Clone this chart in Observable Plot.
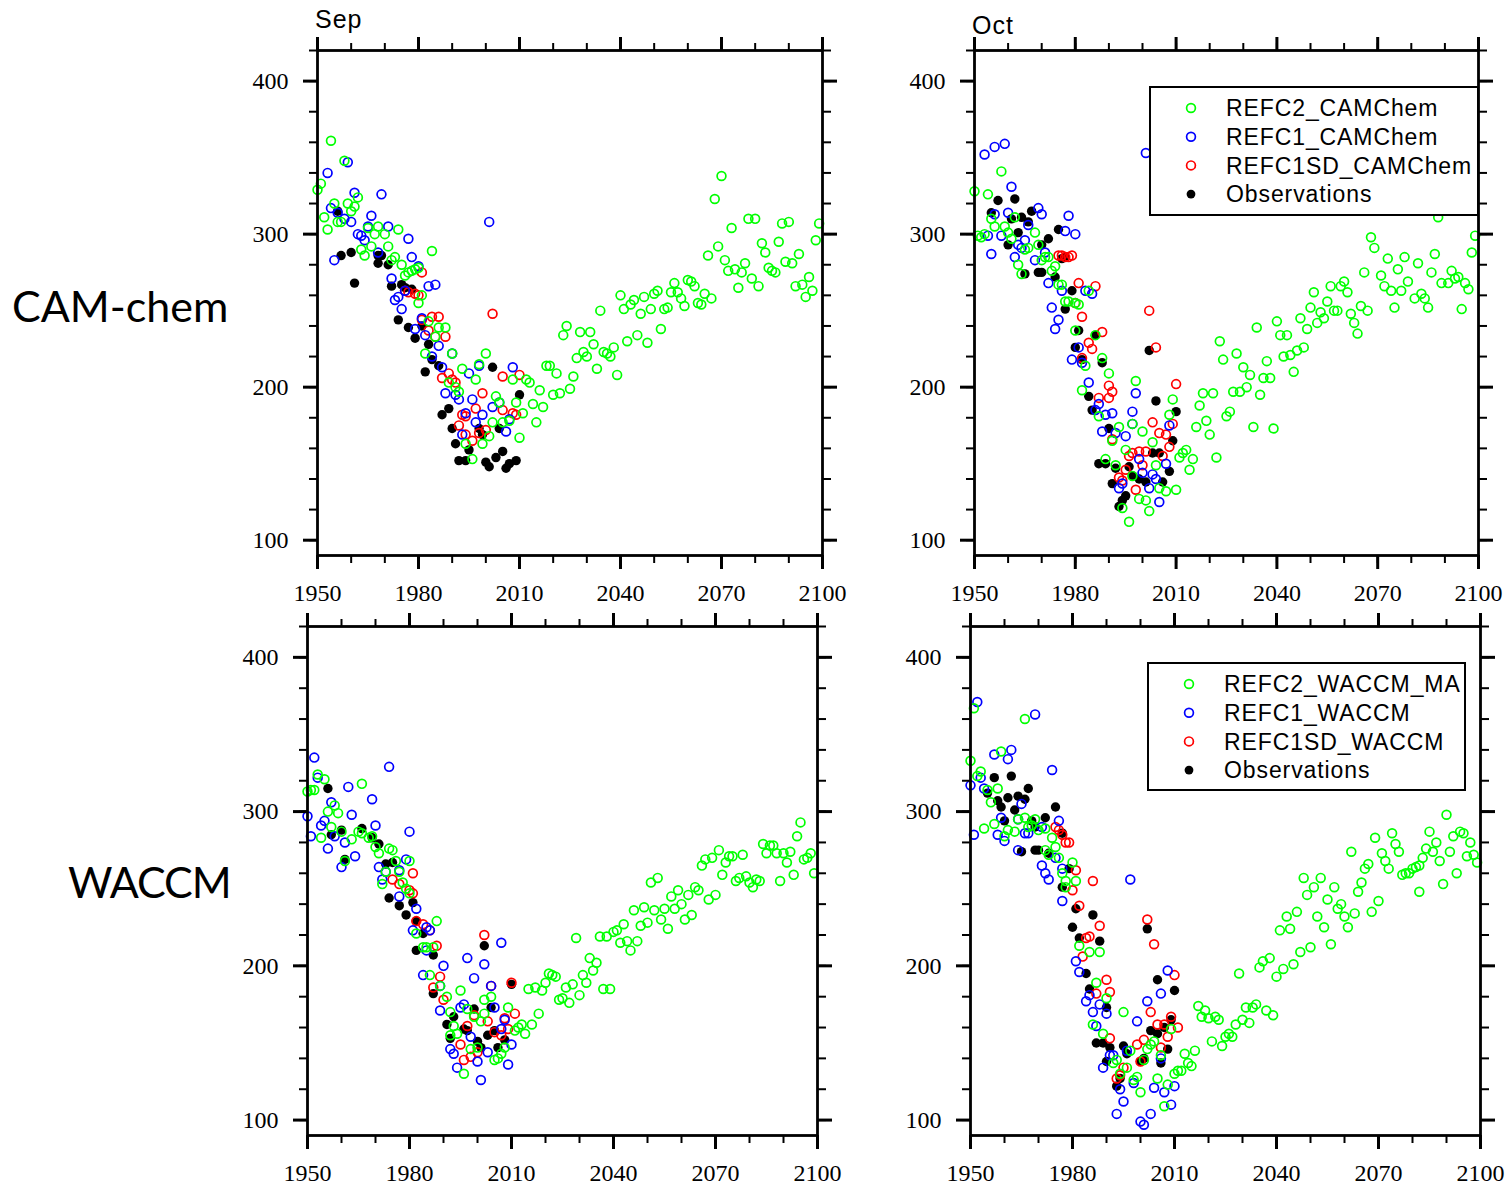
<!DOCTYPE html>
<html><head><meta charset="utf-8">
<script src="https://cdn.jsdelivr.net/npm/d3@7"></script>
<script src="https://cdn.jsdelivr.net/npm/@observablehq/plot@0.6"></script>
<style>
body{margin:0;background:#fff;}
#root{position:relative;width:1509px;height:1188px;overflow:hidden;background:#fff;}
#root > svg, #root > div{position:absolute;}
svg.panel text{font-family:"Liberation Serif","Times New Roman",serif !important;}
</style></head><body><div id="root"></div>
<script>
// ---------------- data: [year, ozone value] ----------------
const xMajorTicks = [1950, 1980, 2010, 2040, 2070, 2100];
const yMajorTicks = [100, 200, 300, 400];
const legendCam = ["REFC2_CAMChem", "REFC1_CAMChem", "REFC1SD_CAMChem", "Observations"];
const legendWac = ["REFC2_WACCM_MA", "REFC1_WACCM", "REFC1SD_WACCM", "Observations"];

// CAM-chem, September
const camSepC2 = [[1950,329],[1951,333],[1952,311],[1953,303],[1954,361],[1955,320],[1956,308],[1957,308],[1958,348],[1959,320],[1960,315],[1961,318],[1962,324],[1963,290],[1964,286],[1965,304],[1966,292],[1967,300],[1968,305],[1970,300],[1971,292],[1972,283],[1973,285],[1974,303],[1975,280],[1976,273],[1977,275],[1978,276],[1979,277],[1980,278],[1980,255],[1981,260],[1982,222],[1983,243],[1984,289],[1985,233],[1986,239],[1988,239],[1989,203],[1990,222],[1991,200],[1992,197],[1993,212],[1994,163],[1996,153],[1997,205],[1998,215],[1999,163],[2000,222],[2001,168],[2002,177],[2003,194],[2004,190],[2005,177],[2007,178],[2008,205],[2009,190],[2010,167],[2011,183],[2012,205],[2013,203],[2014,189],[2015,177],[2016,198],[2017,187],[2018,214],[2019,214],[2020,195],[2021,209],[2022,196],[2023,234],[2024,240],[2025,199],[2026,207],[2027,219],[2028,236],[2029,223],[2030,220],[2031,236],[2032,228],[2033,212],[2034,250],[2035,223],[2036,222],[2037,220],[2038,226],[2039,208],[2040,260],[2041,251],[2042,230],[2043,254],[2044,257],[2045,234],[2046,248],[2047,259],[2048,229],[2049,251],[2050,261],[2051,263],[2052,238],[2053,251],[2054,252],[2055,262],[2056,268],[2057,262],[2058,258],[2059,253],[2060,270],[2061,269],[2062,266],[2063,255],[2064,254],[2065,261],[2066,286],[2067,258],[2068,323],[2069,292],[2070,338],[2071,283],[2072,276],[2073,304],[2074,277],[2075,265],[2076,275],[2077,281],[2078,310],[2079,271],[2080,310],[2081,266],[2082,294],[2083,288],[2084,278],[2085,276],[2086,275],[2087,295],[2088,307],[2089,282],[2090,308],[2091,281],[2092,266],[2093,287],[2094,267],[2095,259],[2096,272],[2097,263],[2098,296],[2099,307]];
const camSepC1 = [[1953,340],[1954,317],[1955,283],[1956,314],[1958,310],[1959,347],[1960,308],[1961,327],[1962,300],[1963,299],[1964,296],[1965,305],[1966,312],[1968,288],[1969,326],[1971,305],[1972,271],[1973,257],[1974,259],[1975,251],[1976,263],[1977,297],[1978,285],[1979,238],[1980,279],[1981,245],[1982,234],[1983,266],[1984,220],[1985,267],[1986,227],[1987,213],[1988,196],[1990,222],[1991,195],[1992,192],[1993,169],[1994,183],[1995,209],[1996,192],[1997,177],[1998,214],[1999,182],[2001,308],[2002,187],[2004,190],[2006,171],[2007,179],[2008,213]];
const camSepSD = [[1976,263],[1977,262],[1979,261],[1980,260],[1981,275],[1981,244],[1983,237],[1984,246],[1985,233],[1986,246],[1987,206],[1988,233],[1989,209],[1990,205],[1991,203],[1992,175],[1993,182],[1994,181],[1994,169],[1996,165],[1997,186],[1998,170],[1999,196],[2000,172],[2002,248],[2005,207],[2005,185],[2008,183],[2009,182],[2010,208]];
const camSepObs = [[1956,315],[1957,286],[1960,288],[1961,268],[1968,286],[1969,286],[1968,281],[1971,280],[1972,266],[1975,267],[1976,265],[1978,264],[1974,244],[1977,239],[1979,232],[1981,240],[1983,228],[1982,210],[1984,218],[1986,214],[1987,182],[1989,186],[1990,173],[1991,163],[1992,152],[1994,152],[1995,159],[1998,173],[1999,169],[2000,151],[2001,148],[2002,213],[2003,154],[2004,173],[2005,158],[2006,147],[2007,150],[2009,152],[2010,195]];

// CAM-chem, October
const camOctC2 = [[1950,328],[1951,299],[1952,298],[1953,300],[1954,326],[1955,310],[1956,305],[1958,341],[1959,305],[1960,301],[1961,297],[1962,311],[1963,280],[1964,274],[1965,290],[1966,291],[1968,301],[1969,293],[1970,283],[1971,285],[1972,285],[1973,276],[1974,279],[1975,267],[1976,267],[1977,256],[1978,256],[1980,255],[1980,237],[1981,254],[1982,198],[1983,214],[1984,263],[1986,234],[1987,181],[1988,219],[1989,153],[1990,209],[1991,165],[1992,149],[1993,174],[1994,121],[1995,159],[1996,112],[1997,176],[1997,142],[1998,204],[1999,127],[2000,171],[2001,126],[2002,119],[2003,164],[2004,149],[2005,134],[2007,132],[2008,182],[2009,192],[2010,133],[2011,154],[2012,157],[2013,159],[2014,146],[2015,153],[2016,174],[2017,188],[2018,196],[2019,178],[2020,169],[2021,196],[2022,154],[2023,230],[2024,218],[2025,181],[2026,184],[2027,197],[2028,222],[2029,197],[2030,213],[2031,200],[2032,208],[2033,174],[2034,239],[2035,195],[2036,206],[2037,217],[2038,206],[2039,173],[2040,243],[2041,234],[2042,220],[2043,234],[2044,221],[2045,210],[2046,224],[2047,245],[2048,226],[2049,238],[2050,252],[2051,262],[2052,242],[2053,249],[2054,245],[2055,256],[2056,266],[2057,250],[2058,250],[2059,266],[2060,269],[2061,262],[2062,248],[2063,242],[2064,235],[2065,253],[2066,275],[2067,250],[2068,298],[2069,291],[2070,317],[2071,273],[2072,266],[2073,284],[2074,263],[2075,252],[2076,277],[2077,263],[2078,285],[2079,269],[2080,317],[2081,258],[2082,281],[2083,261],[2084,258],[2085,252],[2086,275],[2087,287],[2088,311],[2089,268],[2090,321],[2091,268],[2092,276],[2093,271],[2094,272],[2095,251],[2096,268],[2097,264],[2098,288],[2099,299]];
const camOctC1 = [[1953,352],[1954,299],[1955,287],[1956,357],[1956,313],[1958,299],[1959,359],[1960,314],[1961,331],[1962,285],[1963,293],[1964,291],[1965,296],[1966,306],[1968,283],[1969,317],[1970,313],[1971,288],[1972,268],[1973,252],[1974,238],[1975,244],[1976,263],[1977,302],[1978,312],[1979,218],[1980,300],[1981,226],[1982,216],[1983,263],[1984,203],[1985,261],[1986,185],[1987,189],[1988,171],[1989,182],[1991,183],[1992,170],[1993,134],[1994,137],[1995,168],[1997,184],[1997,176],[1998,196],[1999,153],[2000,144],[2001,353],[2002,134],[2003,143],[2004,140],[2005,125],[2007,150],[2008,175]];
const camOctSD = [[1975,286],[1976,286],[1977,285],[1978,285],[1979,286],[1980,255],[1981,268],[1982,246],[1982,219],[1984,229],[1985,225],[1986,266],[1987,193],[1988,236],[1990,201],[1990,193],[1991,197],[1991,166],[1993,141],[1994,139],[1995,146],[1996,155],[1997,157],[1998,133],[1999,158],[2000,149],[2001,158],[2002,250],[2003,177],[2004,226],[2005,170],[2006,155],[2007,169],[2008,161],[2009,176],[2010,202]];
const camOctObs = [[1955,314],[1957,322],[1960,293],[1961,310],[1962,323],[1963,301],[1964,311],[1965,274],[1966,308],[1967,315],[1969,275],[1970,275],[1970,293],[1972,297],[1974,272],[1975,303],[1976,284],[1977,285],[1977,251],[1979,263],[1980,226],[1981,237],[1982,218],[1984,194],[1985,185],[1986,234],[1987,150],[1988,216],[1989,150],[1990,173],[1991,137],[1992,147],[1993,122],[1994,126],[1995,129],[1996,148],[1997,142],[1999,140],[2001,138],[2002,224],[2003,157],[2004,191],[2005,157],[2006,138],[2008,145],[2009,165],[2010,184]];

// WACCM, September
const wacSepC2 = [[1950,313],[1951,314],[1952,314],[1953,324],[1954,283],[1955,321],[1956,300],[1957,290],[1958,304],[1959,299],[1960,287],[1961,268],[1963,282],[1965,287],[1966,318],[1966,286],[1968,283],[1969,284],[1970,277],[1971,273],[1972,253],[1973,261],[1974,276],[1975,275],[1976,268],[1977,261],[1978,254],[1979,250],[1980,268],[1980,247],[1982,221],[1984,212],[1985,212],[1986,194],[1987,212],[1988,229],[1989,187],[1991,180],[1992,170],[1992,155],[1993,161],[1994,156],[1995,184],[1996,130],[1997,172],[1998,146],[1999,167],[2000,147],[2001,164],[2002,178],[2002,169],[2004,180],[2005,139],[2006,140],[2007,143],[2008,147],[2009,173],[2011,158],[2012,160],[2013,162],[2014,156],[2015,185],[2016,162],[2017,186],[2018,169],[2019,184],[2020,189],[2021,195],[2022,194],[2023,193],[2024,178],[2025,179],[2026,186],[2027,176],[2028,188],[2029,218],[2030,181],[2031,194],[2032,189],[2033,205],[2034,197],[2035,202],[2036,219],[2037,185],[2038,219],[2039,185],[2040,222],[2041,223],[2042,215],[2043,227],[2044,216],[2045,210],[2046,236],[2047,216],[2048,226],[2049,238],[2050,228],[2051,254],[2052,236],[2053,257],[2054,230],[2055,237],[2056,224],[2057,245],[2058,237],[2059,249],[2060,240],[2061,230],[2062,246],[2063,233],[2064,251],[2065,249],[2066,265],[2067,269],[2068,243],[2069,270],[2070,246],[2071,275],[2072,259],[2073,267],[2074,271],[2075,271],[2076,255],[2077,257],[2078,272],[2079,258],[2080,254],[2081,251],[2082,256],[2083,255],[2084,279],[2085,273],[2086,278],[2087,278],[2088,273],[2089,255],[2090,273],[2091,267],[2092,274],[2093,259],[2094,284],[2095,293],[2096,269],[2097,270],[2098,273],[2099,260]];
const wacSepC1 = [[1950,297],[1951,284],[1952,335],[1953,322],[1954,291],[1955,294],[1956,276],[1957,306],[1958,284],[1960,264],[1961,280],[1962,316],[1963,298],[1964,271],[1969,308],[1970,291],[1971,264],[1972,256],[1973,261],[1974,329],[1977,262],[1977,245],[1979,269],[1980,287],[1981,223],[1982,237],[1984,194],[1985,225],[1985,210],[1986,223],[1989,187],[1989,171],[1990,200],[1992,146],[1993,143],[1994,134],[1995,173],[1996,175],[1997,205],[1998,154],[1999,192],[2000,138],[2001,126],[2002,201],[2003,144],[2004,187],[2005,173],[2007,215],[2007,159],[2008,165],[2009,136],[2010,149]];
const wacSepSD = [[1975,256],[1977,253],[1980,249],[1981,260],[1981,247],[1982,229],[1984,227],[1986,223],[1987,186],[1988,213],[1989,193],[1990,178],[1995,149],[1996,139],[1997,161],[1998,141],[1999,168],[2000,144],[2002,220],[2003,164],[2004,187],[2005,157],[2007,155],[2008,166],[2009,159],[2010,189],[2011,169]];
const wacSepObs = [[1956,315],[1957,285],[1960,288],[1961,269],[1966,289],[1969,283],[1971,279],[1973,266],[1974,244],[1975,267],[1977,239],[1979,233],[1981,241],[1982,229],[1982,210],[1984,221],[1987,207],[1987,182],[1991,162],[1992,153],[1993,167],[1996,159],[1997,158],[1999,172],[2000,151],[2001,147],[2002,213],[2003,155],[2004,173],[2005,158],[2006,147],[2008,152],[2010,188]];

// WACCM, October
const wacOctC2 = [[1950,333],[1951,367],[1952,323],[1953,326],[1954,289],[1955,314],[1956,306],[1957,292],[1958,315],[1959,339],[1960,284],[1961,288],[1963,287],[1964,295],[1966,296],[1966,360],[1967,290],[1968,291],[1969,295],[1970,288],[1972,289],[1972,275],[1973,272],[1974,283],[1975,277],[1976,270],[1977,260],[1978,255],[1978,251],[1980,267],[1981,255],[1982,213],[1985,209],[1986,162],[1987,189],[1988,209],[1989,156],[1990,179],[1992,137],[1993,139],[1994,130],[1995,170],[1996,134],[1997,145],[1998,126],[1999,128],[2000,118],[2001,139],[2002,146],[2003,149],[2004,151],[2005,127],[2006,142],[2007,109],[2008,123],[2009,159],[2010,130],[2011,132],[2012,132],[2013,143],[2014,137],[2015,135],[2016,145],[2017,174],[2018,167],[2019,171],[2020,166],[2021,151],[2022,167],[2023,165],[2024,148],[2025,154],[2026,156],[2027,154],[2028,162],[2029,195],[2030,165],[2031,173],[2032,163],[2033,173],[2034,175],[2035,199],[2036,203],[2037,171],[2038,205],[2039,168],[2040,193],[2041,223],[2042,198],[2043,232],[2044,224],[2045,201],[2046,235],[2047,209],[2048,257],[2049,246],[2050,212],[2051,251],[2052,232],[2053,257],[2054,225],[2055,243],[2056,214],[2057,251],[2058,237],[2059,240],[2060,232],[2061,225],[2062,274],[2063,234],[2064,248],[2065,254],[2066,263],[2067,266],[2068,235],[2069,283],[2070,242],[2071,273],[2072,268],[2073,263],[2074,286],[2075,279],[2076,274],[2077,259],[2078,260],[2079,260],[2080,263],[2081,264],[2082,265],[2082,248],[2083,270],[2084,276],[2085,287],[2086,274],[2087,280],[2088,268],[2089,253],[2090,298],[2091,274],[2092,284],[2093,260],[2094,287],[2095,286],[2096,271],[2097,280],[2098,272],[2099,267]];
const wacOctC1 = [[1950,317],[1951,285],[1952,371],[1953,322],[1954,315],[1957,337],[1958,285],[1959,296],[1960,281],[1961,334],[1962,340],[1964,295],[1964,275],[1965,305],[1966,286],[1967,286],[1969,363],[1971,290],[1971,265],[1972,260],[1973,256],[1974,327],[1975,270],[1976,294],[1977,242],[1977,263],[1981,203],[1982,196],[1984,177],[1985,181],[1986,170],[1987,161],[1988,175],[1989,134],[1990,169],[1991,142],[1992,142],[1993,104],[1994,120],[1995,112],[1996,145],[1997,256],[1998,124],[1999,164],[2000,99],[2001,97],[2002,177],[2003,104],[2004,121],[2006,182],[2006,140],[2007,118],[2008,197],[2009,110],[2010,122]];
const wacOctSD = [[1975,290],[1976,288],[1977,285],[1978,280],[1979,280],[1980,249],[1981,262],[1982,239],[1983,206],[1984,218],[1985,219],[1986,255],[1987,182],[1988,226],[1990,191],[1991,183],[1991,153],[1993,127],[1994,129],[1995,134],[1999,149],[2000,138],[2001,152],[2002,230],[2003,170],[2004,214],[2005,162],[2006,147],[2007,162],[2008,154],[2009,167],[2010,194],[2011,160]];
const wacOctObs = [[1955,312],[1957,322],[1958,307],[1959,303],[1960,294],[1961,309],[1962,323],[1963,301],[1964,310],[1965,274],[1966,308],[1967,315],[1968,294],[1969,290],[1969,275],[1970,275],[1972,296],[1973,273],[1975,303],[1977,286],[1977,251],[1979,263],[1980,225],[1981,237],[1982,218],[1984,195],[1985,185],[1986,233],[1987,150],[1988,216],[1989,150],[1990,173],[1990,138],[1991,147],[1993,122],[1994,127],[1995,148],[1996,143],[2000,138],[2001,140],[2002,224],[2003,158],[2005,191],[2005,156],[2006,137],[2007,160],[2008,146],[2009,165],[2010,184]];

// ---------------- layout & styles ----------------
const colors = ["#00ff00", "#0000ff", "#ff0000", "#000000"];
const xMinorTicks = d3.range(1950, 2101, 10);
const yMinorTicks = d3.range(100, 421, 20);
const panels = [
  {L:317, R:822, T:50, B:555, series:[camSepC2, camSepC1, camSepSD, camSepObs]},
  {L:974, R:1478, T:50, B:555, series:[camOctC2, camOctC1, camOctSD, camOctObs]},
  {L:307, R:817, T:626, B:1135, series:[wacSepC2, wacSepC1, wacSepSD, wacSepObs]},
  {L:970, R:1480, T:626, B:1135, series:[wacOctC2, wacOctC1, wacOctSD, wacOctObs]}
];
const root = document.getElementById("root");
const mL = 90, mR = 45, mT = 30, mB = 60;
const serif = "Liberation Serif";

for (const p of panels) {
  const [c2, c1, sd, obs] = p.series;
  const tickAxis = (dir, anchor, ticks, size, sw, labels) => {
    const opt = {anchor, ticks, tickSize: size, strokeWidth: sw, label: null,
      tickFormat: labels ? (d => String(d)) : (() => ""),
      tickPadding: dir === "x" ? 14 : 15, fontSize: 24, fontFamily: serif};
    return dir === "x" ? Plot.axisX(opt) : Plot.axisY(opt);
  };
  const dotOpts = (c) => ({x: d => d[0], y: d => d[1], r: 4.4, stroke: c, strokeWidth: 1.7, fill: "none"});
  const chart = Plot.plot({
    width: p.R - p.L + mL + mR,
    height: p.B - p.T + mT + mB,
    marginLeft: mL, marginRight: mR, marginTop: mT, marginBottom: mB,
    style: {fontFamily: serif, fontSize: "24px", background: "transparent", overflow: "visible"},
    x: {domain: [1950, 2100]},
    y: {domain: [90, 420]},
    marks: [
      Plot.dot(obs, {x: d => d[0], y: d => d[1], r: 4.7, fill: colors[3], stroke: "none"}),
      Plot.dot(sd, dotOpts(colors[2])),
      Plot.dot(c1, dotOpts(colors[1])),
      Plot.dot(c2, dotOpts(colors[0])),
      tickAxis("x", "bottom", xMinorTicks, 8, 2, false),
      tickAxis("x", "bottom", xMajorTicks, 14, 3, true),
      tickAxis("x", "top", xMinorTicks, 8, 2, false),
      tickAxis("x", "top", xMajorTicks, 14, 3, false),
      tickAxis("y", "left", yMinorTicks, 8, 2, false),
      tickAxis("y", "left", yMajorTicks, 14, 3, true),
      tickAxis("y", "right", yMinorTicks, 8, 2, false),
      tickAxis("y", "right", yMajorTicks, 14, 3, false),
      Plot.frame({stroke: "black", strokeWidth: 2.8})
    ]
  });
  chart.classList.add("panel");
  chart.style.left = (p.L - mL) + "px";
  chart.style.top = (p.T - mT) + "px";
  root.appendChild(chart);
}

// ---------------- text overlay: month labels, row labels, legends ----------------
const ov = d3.create("svg").attr("width", 1509).attr("height", 1188)
  .style("left", "0px").style("top", "0px").style("pointer-events", "none");
ov.append("text").attr("x", 315).attr("y", 28).text("Sep")
  .attr("font-family", "Liberation Sans").attr("font-size", 25).attr("letter-spacing", 1);
ov.append("text").attr("x", 972).attr("y", 34).text("Oct")
  .attr("font-family", "Liberation Sans").attr("font-size", 25).attr("letter-spacing", 1);
ov.append("text").attr("x", 12).attr("y", 322).text("CAM-chem")
  .attr("font-family", "Lato").attr("font-size", 43);
ov.append("text").attr("x", 68).attr("y", 898).text("WACCM")
  .attr("font-family", "Lato").attr("font-size", 43).attr("letter-spacing", -1);

function legend(x, y, w, h, labels) {
  const g = ov.append("g").attr("transform", `translate(${x},${y})`);
  g.append("rect").attr("width", w).attr("height", h).attr("fill", "#fff")
    .attr("stroke", "#000").attr("stroke-width", 2);
  labels.forEach((lab, i) => {
    const cy = 21 + i * 28.7;
    g.append("circle").attr("cx", 41).attr("cy", cy).attr("r", 4.4)
      .attr("fill", i === 3 ? "#000" : "none").attr("stroke", i === 3 ? "none" : colors[i])
      .attr("stroke-width", 1.7);
    g.append("text").attr("x", 76).attr("y", cy).attr("dy", "0.36em").text(lab)
      .attr("font-family", "Liberation Sans").attr("font-size", 23).attr("letter-spacing", 0.9);
  });
}
legend(1150, 87, 328, 128, legendCam);
legend(1148, 663, 317, 127, legendWac);
root.appendChild(ov.node());
</script></body></html>
